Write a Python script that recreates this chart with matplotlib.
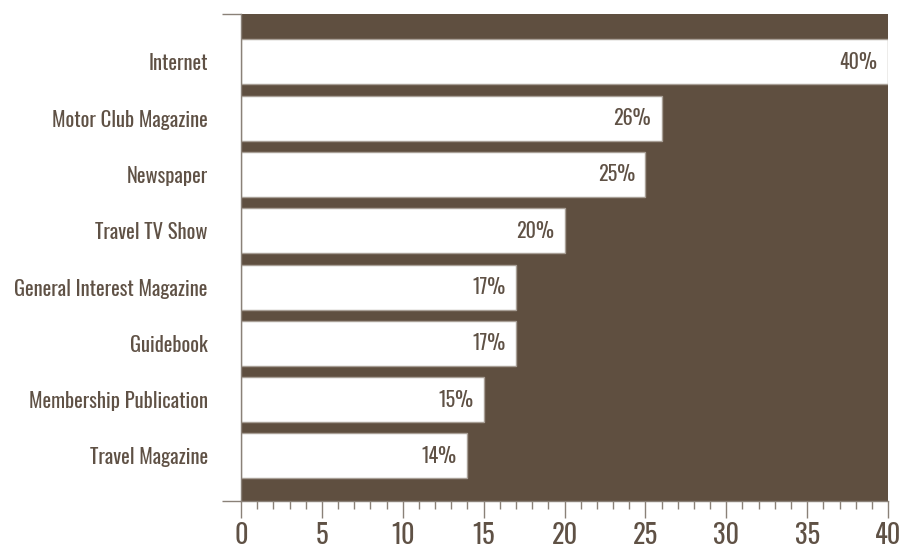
import matplotlib
matplotlib.use("Agg")
import matplotlib.pyplot as plt
from matplotlib.ticker import MultipleLocator, FixedLocator

# Quellen für Reiseinformationen (Anteil in %)
categories = ["Internet", "Motor Club Magazine", "Newspaper", "Travel TV Show",
              "General Interest Magazine", "Guidebook", "Membership Publication",
              "Travel Magazine"]
values = [40, 26, 25, 20, 17, 17, 15, 14]
x_ticks = [0, 5, 10, 15, 20, 25, 30, 35, 40]

brown = "#5f4f40"
text_col = "#5f5145"
axis_col = "#8a8178"

plt.rcParams["font.family"] = ["Oswald", "DejaVu Sans"]
plt.rcParams["font.weight"] = 300

fig = plt.figure(figsize=(9, 5.5), dpi=100)
ax = fig.add_axes([0.2678, 0.0891, 0.7189, 0.8854])
ax.set_facecolor(brown)

# oberste Kategorie oben
ypos = list(range(len(categories) - 1, -1, -1))
ax.barh(ypos, values, height=0.8, color="white", edgecolor="#a89f96", linewidth=1)

for y, v in zip(ypos, values):
    ax.text(v - 0.65, y, f"{v}%", ha="right", va="center", fontsize=14.5, color=text_col)

ax.set_xlim(0, 40)
ax.set_ylim(-0.8, 7.85)

ax.set_xticks(x_ticks)
ax.set_xticklabels([str(t) for t in x_ticks])
ax.xaxis.set_minor_locator(MultipleLocator(1))
ax.tick_params(axis="x", which="major", length=12, width=1, color=axis_col,
               labelsize=19, labelcolor=text_col, pad=3)
ax.tick_params(axis="x", which="minor", length=6, width=1, color=axis_col)

ax.set_yticks(ypos)
ax.set_yticklabels(categories)
ax.yaxis.set_minor_locator(FixedLocator([-0.8, 7.85]))
ax.tick_params(axis="y", which="major", length=0, labelsize=14.8, labelcolor=text_col, pad=24)
ax.tick_params(axis="y", which="minor", length=14, width=1, color=axis_col)

for side in ["top", "right"]:
    ax.spines[side].set_visible(False)
for side in ["left", "bottom"]:
    ax.spines[side].set_color(axis_col)
    ax.spines[side].set_linewidth(1)

fig.savefig("out.png", dpi=100, facecolor="white")
